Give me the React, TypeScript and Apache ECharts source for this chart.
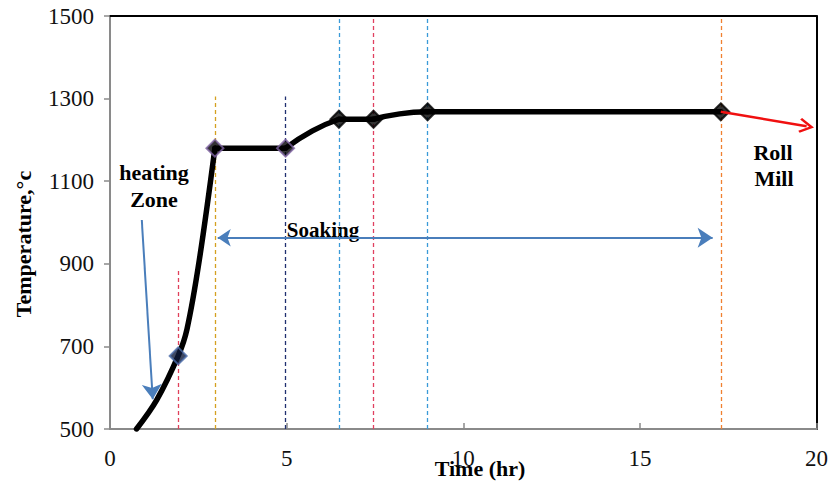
import React, { useEffect, useRef } from "react";
import * as echarts from "echarts";

// ---- data ----
const xTicks = [0, 5, 10, 15, 20];
const yTicks = [500, 700, 900, 1100, 1300, 1500];

// furnace temperature curve pieces (Time hr, Temperature °C)
const riseCurve = [
  [0.75, 500], [1.32, 570], [1.93, 677], [2.18, 742], [2.53, 910], [2.97, 1180],
];
const holdA = [[2.97, 1180], [4.97, 1180]];
const rampA = [[4.97, 1180], [5.73, 1222], [6.48, 1250]];
const holdB = [[6.48, 1250], [7.46, 1250]];
const rampB = [[7.46, 1250], [8.2, 1263], [8.99, 1268]];
const holdC = [[8.99, 1268], [17.29, 1268]];

const markerPoints = [
  [1.93, 677], [2.97, 1180], [4.97, 1180], [6.48, 1250],
  [7.46, 1250], [8.99, 1268], [17.29, 1268],
];
const markerFill = ["#0f1a3a", "#000000", "#000000", "#000000", "#000000", "#000000", "#000000"];
const markerBorder = ["#4a6aa8", "#8064a2", "#8064a2", "#000000", "#000000", "#000000", "#000000"];

const guideX = [1.93, 2.97, 4.97, 6.48, 7.46, 8.99, 17.29];
const guideTop = [890, 1305, 1305, 1500, 1500, 1500, 1500];
const guideColors = ["#e0405a", "#d4a020", "#203070", "#3a9ad8", "#e04060", "#3a9ad8", "#f08030"];

const soakingArrow = [[3.05, 963], [17.06, 963]];
const heatingArrow = [[0.9, 1006], [1.21, 572]];
const rollArrow = [[17.29, 1268], [19.72, 1233]];

const SERIF = "Liberation Serif";

export default function App() {
  const ref = useRef<HTMLDivElement>(null);

  useEffect(() => {
    if (!ref.current) return;
    const chart = echarts.init(ref.current, undefined, { renderer: "svg" });

    const curveStyle = { color: "#000", width: 5.5, cap: "round" as const, join: "round" as const };
    const segs = [
      { d: riseCurve, smooth: 0.35 },
      { d: holdA, smooth: false },
      { d: rampA, smooth: 0.5 },
      { d: holdB, smooth: false },
      { d: rampB, smooth: 0.5 },
      { d: holdC, smooth: false },
    ];

    const lineSeries = segs.map((s) => ({
      type: "line",
      data: s.d,
      smooth: s.smooth,
      showSymbol: false,
      symbol: "none",
      lineStyle: curveStyle,
      z: 5,
      silent: true,
    }));

    const tickLabel = (ticks: number[]) => (v: number) => {
      const t = ticks.find((k) => Math.abs(k - v) < 1e-6);
      return t === undefined ? "" : String(t);
    };

    const text = (t: string, x: number, y: number, size = 22) => ({
      type: "text",
      x,
      y,
      style: {
        text: t,
        fontFamily: SERIF,
        fontSize: size,
        fontWeight: "bold",
        fill: "#000",
        align: "center",
        verticalAlign: "middle",
      },
    });

    const option: any = {
      animation: false,
      textStyle: { fontFamily: SERIF },
      grid: { left: 110, right: 13, top: 16, bottom: 56, show: false },
      xAxis: [
        {
          type: "value",
          min: 0,
          max: 20,
          interval: 5,
          axisLine: { show: true, onZero: false, lineStyle: { color: "#8a8a8a", width: 2 } },
          axisTick: { show: true, inside: true, length: 6, lineStyle: { color: "#8a8a8a", width: 1.5 } },
          splitLine: { show: false },
          axisLabel: {
            margin: 18,
            fontFamily: SERIF,
            fontSize: 23,
            color: "#111",
            formatter: tickLabel(xTicks),
          },
        },
        {
          type: "value",
          position: "top",
          min: 0,
          max: 20,
          axisLine: { show: true, onZero: false, lineStyle: { color: "#000", width: 2 } },
          axisTick: { show: false },
          axisLabel: { show: false },
          splitLine: { show: false },
        },
      ],
      yAxis: [
        {
          type: "value",
          min: 500,
          max: 1500,
          interval: 200,
          axisLine: { show: true, onZero: false, lineStyle: { color: "#8a8a8a", width: 2 } },
          axisTick: { show: true, length: 6, lineStyle: { color: "#8a8a8a", width: 1.5 } },
          splitLine: { show: false },
          axisLabel: {
            margin: 16,
            fontFamily: SERIF,
            fontSize: 23,
            color: "#111",
            formatter: tickLabel(yTicks),
          },
        },
        {
          type: "value",
          position: "right",
          min: 500,
          max: 1500,
          axisLine: { show: true, onZero: false, lineStyle: { color: "#000", width: 2 } },
          axisTick: { show: false },
          axisLabel: { show: false },
          splitLine: { show: false },
        },
      ],
      series: [
        {
          type: "lines",
          coordinateSystem: "cartesian2d",
          z: 2,
          silent: true,
          data: guideX.map((x, i) => ({
            coords: [[x, 500], [x, guideTop[i]]],
            lineStyle: { color: guideColors[i], width: 1.3, type: [4, 3], opacity: 1 },
          })),
        },
        ...lineSeries,
        {
          type: "scatter",
          symbol: "diamond",
          symbolSize: [17, 17],
          z: 6,
          silent: true,
          data: markerPoints.map((p, i) => ({
            value: p,
            itemStyle: { color: markerFill[i], borderColor: markerBorder[i], borderWidth: 2 },
          })),
        },
        {
          type: "lines",
          coordinateSystem: "cartesian2d",
          z: 7,
          silent: true,
          symbol: ["arrow", "arrow"],
          symbolSize: [13, 15],
          lineStyle: { color: "#4a7ebb", width: 2, opacity: 1 },
          data: [{ coords: soakingArrow }],
        },
        {
          type: "lines",
          coordinateSystem: "cartesian2d",
          z: 7,
          silent: true,
          symbol: ["none", "arrow"],
          symbolSize: [13, 15],
          lineStyle: { color: "#4a7ebb", width: 2, opacity: 1 },
          data: [{ coords: heatingArrow }],
        },
        {
          type: "lines",
          coordinateSystem: "cartesian2d",
          z: 7,
          silent: true,
          symbol: ["none", "path://M50,0 L100,80 L88,90 L50,30 L12,90 L0,80 Z"],
          symbolSize: [22, 15],
          lineStyle: { color: "#f01010", width: 2.5, opacity: 1 },
          data: [{ coords: rollArrow }],
        },
      ],
      graphic: [
        {
          type: "text",
          x: 23,
          y: 244,
          rotation: Math.PI / 2,
          style: {
            text: "Temperature,°c",
            fontFamily: SERIF,
            fontSize: 22,
            fontWeight: "bold",
            fill: "#000",
            align: "center",
            verticalAlign: "middle",
          },
        },
        text("Time (hr)", 480, 468),
        text("heating", 154, 172),
        text("Zone", 154, 199),
        text("Soaking", 323, 230, 21),
        text("Roll", 773, 152),
        text("Mill", 774, 178),
      ],
    };

    chart.setOption(option);
    return () => chart.dispose();
  }, []);

  return (
    <div
      ref={ref}
      style={{ position: "fixed", left: 0, top: 0, width: 831, height: 485, background: "#fff" }}
    />
  );
}
